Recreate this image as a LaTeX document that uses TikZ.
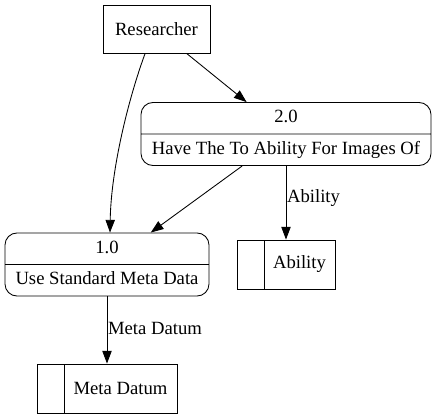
\documentclass[tikz,border=0pt]{standalone}
\usepackage{fontspec}
\setmainfont{Liberation Serif}
\usetikzlibrary{arrows.meta,shapes.multipart,calc}

\begin{document}
\begin{tikzpicture}[x=0.75pt, y=-0.75pt, >={Triangle[length=9.5pt,width=7pt]},
        every node/.style={font=\fontsize{14}{17}\selectfont},
        flow/.style={->, line width=0.65pt},
        entity/.style={draw, line width=0.65pt, minimum width=80.25pt, minimum height=36pt},
        process/.style={draw, line width=0.65pt, rectangle split, rectangle split parts=2,
            rounded corners=9pt, inner ysep=3pt},
        store/.style={draw, line width=0.65pt, minimum height=36.75pt, inner xsep=0pt,
            path picture={\draw[line width=0.65pt] ([xshift=20.25pt]path picture bounding box.north west)
                -- ([xshift=20.25pt]path picture bounding box.south west);}}]
        \useasboundingbox (0,0) rectangle (437,419);

        \node[entity] (res) at (156.5,29) {Researcher};
        \node[process, minimum width=217.5pt] (p2) at (286,134)
            {\strut 2.0 \nodepart{two} \strut Have The To Ability For Images Of};
        \node[process, minimum width=153pt] (p1) at (107,264.5)
            {\strut 1.0 \nodepart{two} \strut Use Standard Meta Data};

        % data stores
        \node[store, minimum width=73.5pt] (ability) at (286,264.5) {\hspace*{20.25pt}Ability};
        \node[store, minimum width=105pt] (meta) at (107,388.5) {\hspace*{20.25pt}Meta Datum};

        \draw[flow] (res) -- (p2);
        \draw[flow] (res.245) .. controls (128,100) and (111,170) .. ($(p1.north)+(3,0)$);
        \draw[flow] (p2) -- (p1);
        \draw[flow] (p2) -- node[anchor=west, inner xsep=0.5pt, pos=0.43] {Ability} (ability);
        \draw[flow] (p1) -- node[anchor=west, inner xsep=0.5pt, pos=0.47] {Meta Datum} (meta);
\end{tikzpicture}
\end{document}
